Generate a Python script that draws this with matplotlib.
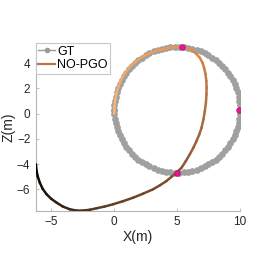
import numpy as np
import matplotlib
matplotlib.use("Agg")
import matplotlib.pyplot as plt
from matplotlib.collections import LineCollection
from matplotlib.colors import LinearSegmentedColormap
from matplotlib.lines import Line2D

plt.rcParams['font.family'] = ['Liberation Sans', 'DejaVu Sans']

gt_x = [0.00, 0.01, 0.05, 0.11, 0.19, 0.30, 0.43, 0.59, 0.76, 0.95, 1.17, 1.40, 1.65, 1.92, 2.20,
        2.50, 2.81, 3.13, 3.45, 3.79, 4.13, 4.48, 4.83, 5.17, 5.52, 5.87, 6.21, 6.55, 6.87, 7.19,
        7.50, 7.80, 8.08, 8.35, 8.60, 8.83, 9.05, 9.24, 9.41, 9.57, 9.70, 9.81, 9.89, 9.95, 9.99,
        10.00, 9.99, 9.95, 9.89, 9.81, 9.70, 9.57, 9.41, 9.24, 9.05, 8.83, 8.60, 8.35, 8.08, 7.80,
        7.50, 7.19, 6.87, 6.55, 6.21, 5.87, 5.52, 5.17, 4.83, 4.48, 4.13, 3.79, 3.45, 3.13, 2.81,
        2.50, 2.20, 1.92, 1.65, 1.40, 1.17, 0.95, 0.76, 0.59, 0.43, 0.30, 0.19, 0.11, 0.05, 0.01, 0.00]
gt_z = [0.30, 0.65, 1.00, 1.34, 1.68, 2.01, 2.33, 2.65, 2.95, 3.24, 3.51, 3.77, 4.02, 4.24, 4.45,
        4.63, 4.79, 4.94, 5.06, 5.15, 5.22, 5.27, 5.30, 5.30, 5.27, 5.22, 5.15, 5.06, 4.94, 4.79,
        4.63, 4.45, 4.24, 4.02, 3.77, 3.51, 3.24, 2.95, 2.65, 2.33, 2.01, 1.68, 1.34, 1.00, 0.65,
        0.30, -0.05, -0.40, -0.74, -1.08, -1.41, -1.73, -2.05, -2.35, -2.64, -2.91, -3.17, -3.42, -3.64, -3.85,
        -4.03, -4.19, -4.34, -4.46, -4.55, -4.62, -4.67, -4.70, -4.70, -4.67, -4.62, -4.55, -4.46, -4.34, -4.19,
        -4.03, -3.85, -3.64, -3.42, -3.17, -2.91, -2.64, -2.35, -2.05, -1.73, -1.41, -1.08, -0.74, -0.40, -0.05, 0.30]

# NO-PGO trajectory
traj_x = [0.00, 0.02, 0.08, 0.18, 0.32, 0.50, 0.72, 1.00, 1.32, 1.70, 2.12, 2.58, 3.08, 3.60, 4.15, 4.75, 5.36,
          5.80, 6.15, 6.50, 6.81, 7.02, 7.15, 7.26, 7.33, 7.35, 7.34, 7.30, 7.21, 7.10, 6.95, 6.77, 6.55,
          6.30, 6.02, 5.70, 5.36, 4.95, 4.55, 4.17, 3.65, 3.10, 2.30, 1.51, 0.70, -0.08, -0.75, -1.40,
          -1.90, -2.33, -2.95, -3.52, -4.08, -4.58, -5.00, -5.37, -5.68, -5.91, -6.07, -6.17, -6.22]
traj_z = [0.00, 0.55, 1.10, 1.62, 2.12, 2.58, 3.00, 3.40, 3.77, 4.12, 4.43, 4.69, 4.90, 5.06, 5.18, 5.26, 5.30,
          5.22, 5.03, 4.78, 4.44, 4.05, 3.65, 3.15, 2.60, 2.05, 1.54, 0.90, 0.21, -0.45, -1.11, -1.65, -2.17,
          -2.70, -3.22, -3.76, -4.29, -4.68, -5.02, -5.34, -5.68, -6.00, -6.35, -6.67, -6.95, -7.19, -7.37, -7.51,
          -7.62, -7.68, -7.70, -7.59, -7.37, -7.06, -6.76, -6.40, -5.97, -5.48, -5.00, -4.55, -4.02]

# Key-frame markers
key_x = [5.40, 9.95, 5.00]
key_z = [5.32, 0.27, -4.68]

fig = plt.figure(figsize=(2.66, 2.66), dpi=100)
ax = fig.add_axes([0.135, 0.208, 0.767, 0.630])

ax.plot(gt_x, gt_z, '-', color='#a0a0a0', lw=1.0, marker='o', ms=3.8,
        mfc='#a0a0a0', mec='#a0a0a0', zorder=2)

pts = np.column_stack([traj_x, traj_z])
segs = np.stack([pts[:-1], pts[1:]], axis=1)
grad = LinearSegmentedColormap.from_list('traj', [
    (0.00, '#f8b676'), (0.25, '#eb9552'), (0.40, '#c27845'),
    (0.60, '#8c5833'), (0.80, '#5a3820'), (1.00, '#000000')])
t = np.linspace(0.0, 1.0, len(segs))
lc = LineCollection(segs, colors=grad(t), linewidths=1.8, capstyle='round',
                    joinstyle='round', zorder=3)
ax.add_collection(lc)

ax.plot(key_x, key_z, 'o', ms=4, mfc='#e6179a', mec='#b8006f', mew=0.5, zorder=4)

ax.set_xlim(-6.22, 10.0)
ax.set_ylim(-7.7, 5.6)
ax.set_xticks([-5, 0, 5, 10])
ax.set_yticks([-6, -4, -2, 0, 2, 4])
for s in ['top', 'right']:
    ax.spines[s].set_visible(False)
for s in ['left', 'bottom']:
    ax.spines[s].set_color('#b5b5b5')
    ax.spines[s].set_linewidth(0.8)
ax.tick_params(direction='in', length=2.5, width=0.6, color='#b5b5b5',
               labelsize=8.5, labelcolor='#262626', pad=4)
ax.set_xlabel('X(m)', fontsize=10, color='#262626', labelpad=1)
ax.set_ylabel('Z(m)', fontsize=10, color='#262626', labelpad=1)

handles = [Line2D([], [], color='#9a9a9a', lw=1.0, marker='o', ms=3, mfc='#9a9a9a', mec='#9a9a9a'),
           Line2D([], [], color='#b5764a', lw=1.6)]
leg = ax.legend(handles, ['GT', 'NO-PGO'], loc='upper left', bbox_to_anchor=(0.0, 1.0),
                borderaxespad=0.0, fontsize=9, frameon=True, fancybox=False,
                handlelength=1.3, handletextpad=0.2, borderpad=0.2, labelspacing=0.15,
                edgecolor='#c8c8c8', framealpha=1.0)
leg.get_frame().set_linewidth(0.8)

fig.savefig('out.png', dpi=100)
